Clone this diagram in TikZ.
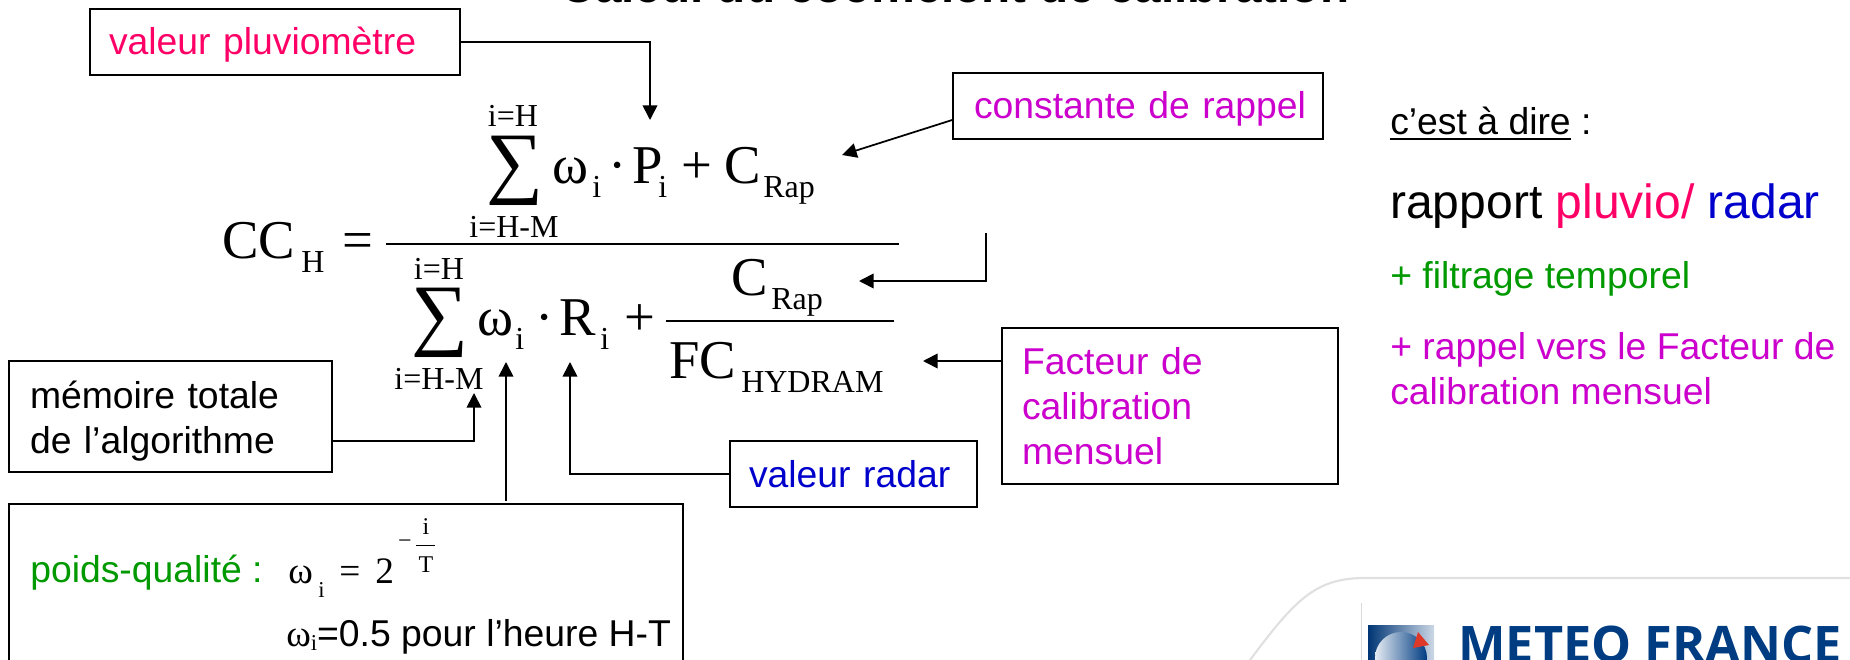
\documentclass[tikz,border=0pt]{standalone}
\usepackage{fontspec}
\setmainfont{Liberation Sans}
\newfontfamily\formulafont{Liberation Serif}
\newfontfamily\logofont{Open Sans}
\usetikzlibrary{arrows.meta,positioning,calc}
\definecolor{pluvio}{RGB}{255,0,102}
\definecolor{rappel}{RGB}{204,0,204}
\definecolor{radar}{RGB}{0,0,204}
\definecolor{filtre}{RGB}{0,153,0}
\definecolor{logoblue}{RGB}{0,60,130}
\definecolor{logored}{RGB}{222,56,40}
\newcommand{\ruled}[1]{\setbox0=\hbox{#1}\rlap{\rule[-4.5pt]{\wd0}{1.6pt}}\box0\relax}
\tikzset{
    notebox/.style={draw=black, line width=1.2pt, inner sep=0pt, align=left,
        font=\fontsize{28}{33.75}\selectfont},
    note/.style={inner sep=0pt, anchor=base west, align=left,
        font=\fontsize{28}{33.75}\selectfont},
    big/.style={inner sep=0pt, anchor=base west, font=\formulafont\fontsize{41}{41}\selectfont},
    sub/.style={inner sep=0pt, anchor=base west, font=\formulafont\fontsize{24}{24}\selectfont},
    small/.style={inner sep=0pt, anchor=base west, font=\formulafont\fontsize{28}{28}\selectfont},
    tiny/.style={inner sep=0pt, anchor=base, font=\formulafont\fontsize{18}{18}\selectfont},
    sigma/.style={inner sep=0pt, anchor=south west, font=\formulafont\fontsize{60}{60}\selectfont},
    link/.style={->, line width=1.3pt},
}

\begin{document}
\begin{tikzpicture}[x=0.75pt, y=-0.75pt, >={Triangle[length=11pt,width=11pt]}]
    \useasboundingbox (0,0) rectangle (1850,660);

    % Title, cut by the top of the page
    \node[inner sep=0pt, anchor=base, font=\bfseries\fontsize{35.7}{36}\selectfont] (title) at (955,3) {Calcul du coefficient de calibration};

    % Left hand side
    \node[big] (cc) at (222,258) {CC};
    \node[sub] (ccH) at (301,272) {H};
    \node[big] (eq) at (342,258) {=};
    \draw[line width=2pt] (386,244) -- (899,244);
    \draw[line width=1pt] (666,321) -- (894,321);

    % Numerator
    \node[sub, anchor=base] (numTop) at (513,127) {i=H};
    \node[sigma] (numSum) at (486,206) {∑};
    \node[sub, anchor=base] (numBot) at (514,237) {i=H-M};
    \node[big] (numW) at (552,183) {ω};
    \node[sub] (numWi) at (592,197) {i};
    \node[big] (numDot) at (608,183) {·};
    \node[big] (numP) at (632,183) {P};
    \node[sub] (numPi) at (658,197) {i};
    \node[big] (numPlus) at (681,183) {+};
    \node[big] (numC) at (724,183) {C};
    \node[sub] (numRap) at (763,197) {Rap};

    % Denominator
    \node[sub, anchor=base] (denTop) at (439,279) {i=H};
    \node[sigma] (denSum) at (411,358) {∑};
    \node[sub, anchor=base] (denBot) at (439,389) {i=H-M};
    \node[big] (denW) at (477,335) {ω};
    \node[sub] (denWi) at (515,349) {i};
    \node[big] (denDot) at (535,335) {·};
    \node[big] (denR) at (559,335) {R};
    \node[sub] (denRi) at (600,349) {i};
    \node[big] (denPlus) at (624,335) {+};
    \node[big] (denC) at (731,295) {C};
    \node[sub] (denRap) at (771,309) {Rap};
    \node[big] (denFC) at (669,378) {FC};
    \node[sub] (denHyd) at (741,392) {HYDRAM};

    % Boxes round the formula
    \node[notebox, text=pluvio, text height=24pt, minimum width=277.5pt, minimum height=49.5pt, text width=249pt] (boxPluvio) at (275,42) {valeur pluviomètre};
    \node[notebox, text=rappel, text height=24pt, minimum width=277.5pt, minimum height=49.5pt, text width=246pt] (boxRappel) at (1138,106) {\mbox{constante de rappel}};
    \node[notebox, minimum width=242.25pt, minimum height=83.25pt, text width=210.75pt] (boxMemoire) at (170.5,416.5) {\rule{0pt}{27pt}mémoire totale\\de l’algorithme};
    \node[notebox, text=radar, minimum width=185.25pt, minimum height=49.5pt, text width=156.75pt] (boxRadar) at (853.5,474) {valeur radar};
    \node[notebox, text=rappel, minimum width=252pt, minimum height=117pt, text width=222pt] (boxFacteur) at (1170,406) {Facteur de\\calibration\\mensuel};
    \node[notebox, minimum width=505.5pt, minimum height=127.5pt] (boxPoids) at (346,589) {};

    % Weight inside the bottom box
    \node[note, text=filtre] (poids) at (30,582) {poids-qualité :};
    \node[small] (poidsW) at (288,583) {ω};
    \node[sub, font=\formulafont\fontsize{17}{17}\selectfont] (poidsWi) at (318,597) {i};
    \node[small] (poidsEq) at (339,583) {=};
    \node[small] (poidsTwo) at (375,583) {2};
    \node[tiny] (poidsMinus) at (405,548) {−};
    \draw[line width=0.6pt] (416,545) -- (435,545);
    \node[tiny] (poidsI) at (426,534) {i};
    \node[tiny] (poidsT) at (426,572) {T};
    \node[note] (poidsHalf) at (286,646) {{\formulafont ω\raisebox{-3pt}{\fontsize{17}{17}\selectfont i}}=0.5 pour l’heure H-T};

    % Side text
    \node[note] (dire) at (1390,134) {\ruled{c’est à dire} :};
    \node[note, font=\fontsize{36}{40}\selectfont] (rapport) at (1390,218) {rapport \textcolor{pluvio}{pluvio/} \textcolor{radar}{radar}};
    \node[note, text=filtre] (filtrage) at (1390,288) {+ filtrage temporel};
    \node[note, text=rappel] (rappelText) at (1390,404) {+ rappel vers le Facteur de\\calibration mensuel};

    % Arrow ends on the formula
    \coordinate (tipPluvio) at (650,120);
    \coordinate (tipRappel) at (842,155);
    \coordinate (startDeno) at (986,233);
    \coordinate (tipDeno) at (859,281);
    \coordinate (tipFacteur) at (923,361);
    \coordinate (tipMemoire) at (474,393);
    \coordinate (tipPoids) at (506,362);
    \coordinate (tipRadar) at (570,362);

    % Arrows
    \draw[link] (boxPluvio.east) -| (tipPluvio);
    \draw[link] ([yshift=-10.5pt]boxRappel.west) -- (tipRappel);
    \draw[link] (startDeno) |- (tipDeno);
    \draw[link] ([yshift=33.75pt]boxFacteur.west) -- (tipFacteur);
    \draw[link] ([yshift=-18.4pt]boxMemoire.east) -| (tipMemoire);
    \draw[link, shorten <=2pt] (boxPoids.north -| tipPoids) -- (tipPoids);
    \draw[link] (boxRadar.west) -| (tipRadar);

    % Logo in the corner, cut by the page
    \draw[line width=1.6pt, black!12] (1250,660) .. controls (1295,600) and (1315,578) .. (1365,578) -- (1850,578);
    \draw[line width=0.5pt, black!15] (1361,603) -- (1361,660);
    \shade[left color=logoblue!90!black, right color=logoblue!20] (1368,625) rectangle (1434,670);
    \shade[left color=logoblue!10, right color=logoblue] (1401,658) circle (26);
    \fill[logored] (1418,632) -- (1429,645) -- (1413,648) -- cycle;
    \node[inner sep=0pt, anchor=base west, text=logoblue, font=\logofont\bfseries\fontsize{37.8}{38}\selectfont] (logoText) at (1458,662) {METEO FRANCE};

\end{tikzpicture}
\end{document}
